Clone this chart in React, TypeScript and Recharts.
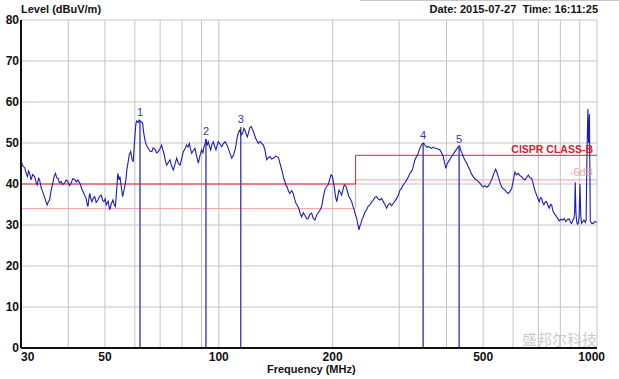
import React from 'react';
import { LineChart, Line, XAxis, YAxis, CartesianGrid, ReferenceLine, ReferenceDot } from 'recharts';

const traceFreq = [
  30, 30.3, 30.7, 31.0, 31.2, 31.4, 31.6, 31.9, 32.2, 32.6, 32.9, 33.1, 33.4, 33.6, 33.9, 34.1, 34.4, 34.7, 35.0, 35.2,
  35.4, 35.7, 36.0, 36.4, 36.7, 37.0, 37.3, 37.6, 37.9, 38.3, 38.7, 39.1, 39.5, 39.9, 40.3, 40.7, 41.1, 41.6, 42.0, 42.4,
  42.8, 43.1, 43.5, 43.8, 44.2, 44.6, 44.9, 45.1, 45.4, 45.6, 45.9, 46.2, 46.6, 47.0, 47.4, 47.9, 48.4, 48.9, 49.3, 49.7,
  50.1, 50.4, 51.0, 51.5, 52.0, 52.5, 52.9, 53.3, 53.7, 54.1, 54.5, 54.8, 55.3, 55.7, 56.2, 56.8, 57.2, 57.6, 58.0, 58.5,
  59.0, 59.4, 59.8, 60.1, 60.4, 60.7, 61.2, 61.6, 61.9, 62.4, 62.9, 63.3, 63.8, 64.4, 65.1, 65.8, 66.5, 67.1, 67.8, 68.5,
  69.2, 69.9, 70.6, 71.1, 71.6, 72.2, 72.8, 73.5, 74.3, 75.0, 75.8, 76.6, 77.4, 78.2, 79.0, 79.8, 80.6, 81.4, 82.2, 82.9,
  83.6, 84.2, 84.8, 85.6, 86.5, 87.4, 88.3, 89.2, 90.1, 90.8, 91.4, 92.0, 92.5, 93.1, 93.8, 94.5, 95.2, 95.9, 96.7, 97.5,
  98.3, 99.0, 99.7, 100.7, 101.8, 102.9, 103.9, 105.0, 106.0, 107.1, 108.2, 109.3, 110.4, 111.1, 111.9, 112.8, 113.8, 114.7, 115.7, 116.5,
  117.3, 118.1, 119.0, 119.9, 120.9, 121.9, 122.9, 123.8, 124.7, 126.0, 127.2, 128.5, 129.9, 131.2, 132.5, 133.2, 133.9, 135.2, 136.6, 137.9,
  139.3, 141.5, 143.7, 145.1, 146.3, 147.5, 148.5, 149.6, 150.6, 151.7, 152.9, 154.2, 155.8, 157.4, 158.7, 160.0, 161.6, 163.2, 164.4, 165.6,
  167.3, 169.0, 170.7, 172.4, 174.2, 176.0, 177.8, 179.6, 181.4, 183.2, 185.1, 187.1, 189.0, 190.9, 192.8, 194.7, 196.3, 198.0, 199.5, 202.0,
  203.5, 205.0, 206.4, 207.9, 209.6, 211.3, 213.0, 214.7, 216.3, 217.9, 219.4, 220.9, 222.7, 224.6, 226.3, 228.1, 229.8, 231.5, 233.1, 234.8,
  236.2, 237.7, 239.3, 241.0, 243.5, 246.0, 248.5, 251.0, 253.5, 256.1, 258.8, 261.5, 264.1, 266.8, 269.5, 272.2, 275.0, 277.9, 280.7, 283.5,
  286.4, 289.3, 292.3, 295.3, 298.3, 301.3, 304.3, 307.4, 310.6, 313.9, 317.0, 320.2, 322.5, 324.7, 327.4, 330.1, 332.8, 335.6, 338.0, 340.3,
  342.7, 345.1, 348.0, 350.8, 354.3, 357.9, 361.7, 365.4, 369.2, 372.9, 378.6, 384.4, 388.3, 392.2, 395.5, 398.7, 401.5, 404.3, 408.5, 412.7,
  416.9, 421.1, 425.4, 429.7, 433.0, 436.0, 439.5, 442.9, 447.5, 452.2, 456.7, 461.3, 466.0, 470.7, 475.6, 480.6, 485.4, 490.3, 495.3, 500.3,
  505.5, 510.8, 516.0, 521.2, 526.5, 531.8, 535.6, 539.5, 543.8, 548.2, 554.0, 559.7, 565.3, 571.0, 576.7, 582.5, 588.6, 594.7, 600.7, 606.8,
  613.0, 619.2, 625.7, 632.2, 638.6, 645.0, 651.5, 658.0, 664.8, 671.6, 676.3, 681.1, 686.7, 692.4, 697.9, 703.5, 708.6, 713.8, 718.8, 723.9,
  729.8, 735.8, 741.7, 747.6, 753.1, 758.6, 762.3, 766.1, 774.0, 782.0, 788.3, 794.6, 802.9, 811.2, 819.4, 827.6, 836.0, 844.5, 850.7, 856.9,
  863.0, 869.0, 872.5, 875.9, 879.7, 883.4, 887.8, 892.2, 896.8, 901.3, 906.0, 910.8, 917.2, 923.7, 931.3, 936.0, 940.0, 946.0, 950.0, 955.0,
  960.0, 968.0, 977.4, 988.0, 997.8, 1000,
];

const traceLevel = [
  45.7, 44.5, 43.9, 42.4, 41.8, 43.2, 42.7, 41.0, 42.3, 41.8, 40.4, 39.8, 41.4, 41.0, 39.2, 38.5, 37.6, 36.5, 35.4, 34.9,
  35.6, 36.1, 38.2, 40.2, 41.8, 42.6, 41.5, 41.4, 40.3, 40.6, 39.9, 40.2, 41.0, 40.6, 39.6, 40.2, 41.3, 41.1, 40.5, 41.0,
  40.4, 39.8, 38.6, 38.1, 37.2, 36.5, 35.0, 34.5, 36.8, 37.7, 36.4, 35.7, 36.6, 36.9, 35.5, 36.1, 37.0, 37.3, 36.0, 35.7,
  36.4, 34.9, 35.8, 33.7, 35.2, 36.1, 35.0, 34.5, 38.5, 42.6, 41.0, 41.8, 39.0, 36.9, 38.6, 41.0, 43.8, 45.4, 47.2, 47.9,
  46.0, 45.4, 49.5, 52.4, 54.8, 55.4, 55.0, 55.6, 55.4, 55.2, 54.8, 52.6, 50.7, 49.4, 48.7, 48.0, 47.9, 48.8, 48.5, 47.6,
  47.9, 48.6, 49.5, 48.4, 47.5, 45.8, 44.6, 45.2, 45.9, 44.5, 43.4, 44.8, 46.3, 45.0, 44.6, 46.2, 47.9, 48.6, 49.5, 49.0,
  49.9, 48.5, 47.5, 48.1, 48.7, 46.8, 45.1, 46.9, 48.3, 47.6, 49.1, 49.8, 50.9, 49.4, 50.3, 49.2, 48.3, 49.6, 50.3, 49.2,
  48.3, 49.4, 50.3, 49.8, 49.1, 49.9, 50.3, 49.6, 48.7, 47.4, 46.3, 47.0, 48.3, 49.6, 51.5, 52.6, 53.2, 52.0, 52.4, 53.6,
  53.2, 52.2, 51.5, 52.6, 53.8, 54.0, 53.2, 52.5, 51.5, 50.6, 49.9, 50.4, 49.9, 49.5, 48.3, 47.0, 45.9, 46.4, 46.7, 46.1,
  46.3, 46.8, 46.5, 45.1, 43.9, 42.6, 41.4, 40.6, 39.6, 39.3, 38.2, 37.7, 38.4, 37.7, 36.3, 35.3, 34.7, 33.7, 32.6, 32.0,
  33.0, 32.4, 31.5, 31.6, 32.6, 32.9, 31.6, 31.2, 32.4, 33.0, 33.6, 34.5, 36.8, 38.7, 39.4, 39.8, 41.0, 42.2, 42.0, 39.3,
  37.0, 35.7, 37.0, 38.5, 38.0, 37.3, 38.6, 39.8, 39.6, 38.9, 37.8, 36.9, 36.4, 35.7, 34.6, 33.7, 32.5, 31.6, 30.2, 28.8,
  29.8, 30.4, 31.5, 32.0, 33.2, 33.7, 34.6, 34.9, 35.6, 36.1, 36.8, 36.9, 36.3, 36.1, 36.5, 35.7, 35.0, 34.1, 35.0, 35.3,
  34.7, 35.3, 35.8, 36.5, 37.2, 38.5, 39.0, 39.8, 40.3, 41.0, 41.7, 42.6, 42.9, 43.4, 44.6, 45.9, 46.6, 47.1, 48.0, 48.7,
  49.4, 49.8, 50.0, 49.5, 49.0, 49.1, 48.9, 48.7, 49.0, 48.7, 48.6, 48.3, 47.6, 46.7, 45.1, 43.8, 44.9, 45.4, 46.0, 46.7,
  47.3, 47.9, 48.5, 49.1, 49.3, 48.3, 47.6, 46.7, 45.8, 45.1, 44.2, 43.4, 42.4, 41.8, 41.2, 41.0, 40.6, 40.2, 39.6, 39.3,
  39.6, 39.2, 39.5, 40.2, 41.0, 42.2, 42.9, 43.6, 42.8, 41.8, 40.4, 39.3, 38.8, 38.5, 38.0, 37.7, 38.2, 38.9, 40.8, 42.9,
  42.2, 42.6, 42.0, 41.8, 41.2, 41.0, 41.6, 42.2, 41.5, 41.4, 40.5, 39.3, 38.2, 37.3, 36.4, 35.7, 36.7, 36.5, 35.4, 34.9,
  35.6, 35.7, 34.8, 34.1, 35.0, 34.9, 34.0, 33.2, 32.6, 32.0, 31.5, 31.0, 31.4, 31.2, 31.6, 30.8, 31.4, 31.5, 30.7, 30.4,
  31.2, 31.6, 33.0, 40.4, 33.0, 30.8, 30.2, 30.4, 32.0, 40.0, 32.0, 30.4, 30.8, 31.2, 30.6, 31.2, 45.0, 58.3, 50.0, 57.0,
  31.0, 30.4, 30.4, 30.9, 30.7, 30.6,
];

const limitFreq = [30, 230, 230, 1000];
const limitLevel = [40, 40, 47, 47];
const marginFreq = [30, 230, 230, 1000];
const marginLevel = [34, 34, 41, 41];

const markerFreq = [61.9, 92.5, 114.3, 347, 432];
const markerLevel = [55.5, 51.0, 53.9, 50.0, 49.1];
const markerLabel = ['1', '2', '3', '4', '5'];

const xTicks = [30, 40, 50, 60, 70, 80, 90, 100, 200, 300, 400, 500, 600, 700, 800, 900, 1000];
const xLabeled = [30, 50, 100, 200, 500, 1000];
const yTicks = [0, 10, 20, 30, 40, 50, 60, 70, 80];

const FONT = '"Liberation Sans", Arial, sans-serif';

const trace = traceFreq.map((f, i) => ({ f, v: traceLevel[i] }));
const limit = limitFreq.map((f, i) => ({ f, v: limitLevel[i] }));
const margin6 = marginFreq.map((f, i) => ({ f, v: marginLevel[i] }));

const XTick = (props: any) => {
  const { x, y, payload } = props;
  const v = payload.value;
  if (!xLabeled.includes(v)) return <g />;
  let anchor = 'middle';
  let dx = 0;
  if (v === 30) anchor = 'start';
  if (v === 1000) {
    anchor = 'end';
    dx = 8;
  }
  return (
    <text x={x + dx} y={y + 11} textAnchor={anchor} fontSize={12} fontWeight="bold" fill="#111" fontFamily={FONT}>
      {v}
    </text>
  );
};

export default function App() {
  return (
    <div style={{ position: 'absolute', left: 0, top: 0, width: 619, height: 379, background: '#fff', fontFamily: FONT }}>
      <LineChart width={619} height={379} margin={{ top: 20, right: 22, bottom: 11, left: 0 }}>
        <CartesianGrid stroke="#c4c4c4" strokeWidth={1} />
        <XAxis
          dataKey="f"
          type="number"
          scale="log"
          domain={[30, 1000]}
          ticks={xTicks}
          interval={0}
          allowDataOverflow
          height={20}
          tickSize={0}
          tickMargin={2}
          tick={<XTick />}
          axisLine={{ stroke: '#111', strokeWidth: 2 }}
        />
        <XAxis
          xAxisId="top"
          orientation="top"
          dataKey="f"
          type="number"
          scale="log"
          domain={[30, 1000]}
          height={0}
          tick={false}
          tickLine={false}
          axisLine={{ stroke: '#555', strokeWidth: 2 }}
        />
        <YAxis
          type="number"
          domain={[0, 80]}
          ticks={yTicks}
          interval={0}
          width={21}
          tickSize={0}
          tickMargin={2}
          tickLine={false}
          axisLine={{ stroke: '#111', strokeWidth: 2 }}
          tick={{ fontSize: 12, fontWeight: 'bold', fill: '#111', fontFamily: FONT }}
        />
        <YAxis
          yAxisId="right"
          orientation="right"
          type="number"
          domain={[0, 80]}
          width={0}
          tick={false}
          tickLine={false}
          axisLine={{ stroke: '#555', strokeWidth: 2 }}
        />
        <Line data={margin6} dataKey="v" stroke="#f4a0a4" strokeWidth={1} dot={false} isAnimationActive={false} type="linear" />
        <Line data={limit} dataKey="v" stroke="#e0232b" strokeWidth={1} dot={false} isAnimationActive={false} type="linear" />
        {markerFreq.map((f, i) => (
          <ReferenceLine
            key={'ml' + i}
            segment={[{ x: f, y: 0 }, { x: f, y: markerLevel[i] }]}
            stroke="#4a4ab8"
            strokeWidth={1.5}
          />
        ))}
        <Line data={trace} dataKey="v" stroke="#1c1cb8" strokeWidth={1.1} dot={false} isAnimationActive={false} type="linear" />
        {markerFreq.map((f, i) => (
          <ReferenceDot
            key={'md' + i}
            x={f}
            y={markerLevel[i]}
            r={1}
            fill="none"
            stroke="none"
            label={{ value: markerLabel[i], position: 'top', offset: 3, fill: '#3535a0', fontSize: 11, fontFamily: FONT }}
          />
        ))}
      </LineChart>
      <div style={{ position: 'absolute', left: 21, top: 3, fontSize: 11, fontWeight: 'bold', color: '#111', whiteSpace: 'pre', lineHeight: '13px' }}>
        Level (dBuV/m)
      </div>
      <div style={{ position: 'absolute', right: 21, top: 3, fontSize: 11, fontWeight: 'bold', color: '#111', whiteSpace: 'pre', lineHeight: '13px' }}>
        {'Date: 2015-07-27  Time: 16:11:25'}
      </div>
      <div style={{ position: 'absolute', left: 360, top: 0, width: 259, height: 1, background: '#c8c8c8' }} />
      <div style={{ position: 'absolute', left: 267, top: 363, fontSize: 11, fontWeight: 'bold', color: '#111', whiteSpace: 'pre', lineHeight: '13px' }}>
        Frequency (MHz)
      </div>
      <div style={{ position: 'absolute', right: 26, top: 143, fontSize: 10.5, fontWeight: 'bold', color: '#d8202c', whiteSpace: 'pre', lineHeight: '13px' }}>
        CISPR CLASS-B
      </div>
      <div style={{ position: 'absolute', right: 26, top: 166, fontSize: 11, color: '#f0a0a8', whiteSpace: 'pre', lineHeight: '13px' }}>
        -6dB
      </div>
      <div style={{ position: 'absolute', left: 522, top: 331, fontSize: 15, color: '#c4c4c4', whiteSpace: 'pre', lineHeight: '16px', fontFamily: '"Noto Sans CJK SC", sans-serif', opacity: 0.85 }}>
        盛邦尔科技
      </div>
    </div>
  );
}
